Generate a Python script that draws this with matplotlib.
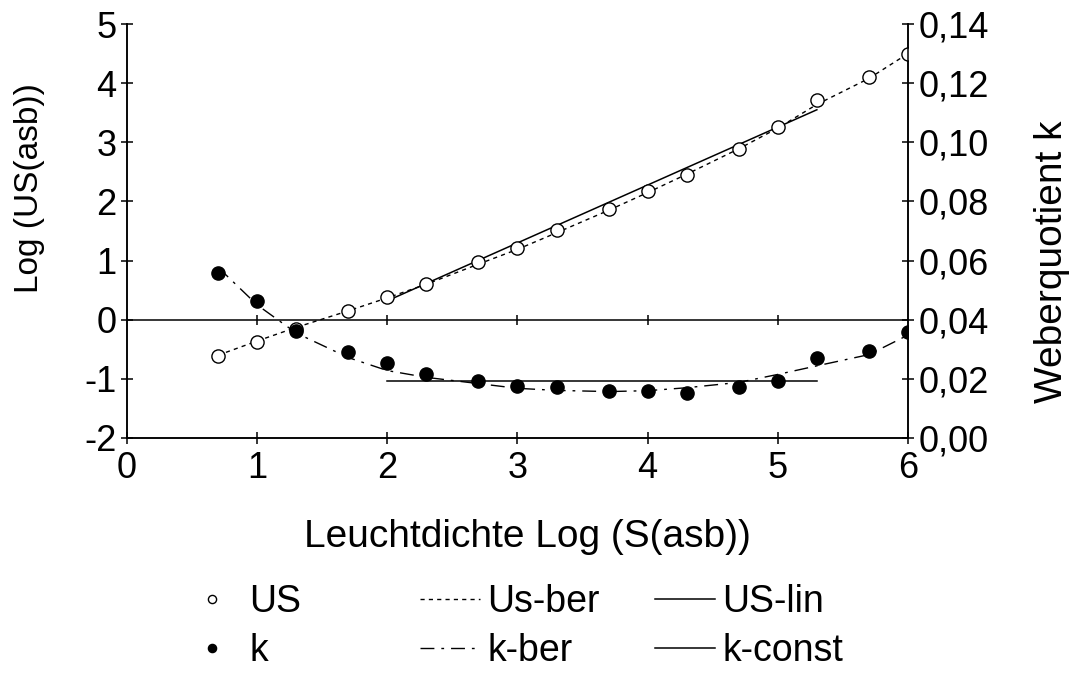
import numpy as np
import matplotlib
matplotlib.use("Agg")
import matplotlib.pyplot as plt
from matplotlib.ticker import FuncFormatter

plt.rcParams['font.family'] = ['Liberation Sans', 'DejaVu Sans']
plt.rcParams['axes.unicode_minus'] = False

# Leuchtdichte (log S) der Messpunkte
log_s = [0.7, 1.0, 1.3, 1.7, 2.0, 2.3, 2.7, 3.0, 3.3, 3.7, 4.0, 4.3, 4.7, 5.0, 5.3, 5.7, 6.0]

# Unterschiedsschwelle, gemessen und berechnet
us_mess = [-0.61, -0.37, -0.15, 0.14, 0.38, 0.61, 0.97, 1.21, 1.51, 1.88, 2.17, 2.44, 2.88, 3.26, 3.71, 4.11, 4.50]
us_ber = [-0.60, -0.36, -0.13, 0.15, 0.37, 0.60, 0.94, 1.19, 1.47, 1.85, 2.15, 2.46, 2.89, 3.24, 3.64, 4.08, 4.50]

# lineare Näherung US-lin
lin_x = [2.0, 5.3]
lin_y = [0.32, 3.55]

# Weberquotient k, gemessen und berechnet
k_mess = [0.0558, 0.0462, 0.0363, 0.0292, 0.0255, 0.0215, 0.0194, 0.0175, 0.0174, 0.0159,
          0.0159, 0.0151, 0.0173, 0.0192, 0.0272, 0.0294, 0.0360]
k_ber = [0.0577, 0.0450, 0.0355, 0.0272, 0.0228, 0.0205, 0.0184, 0.0168, 0.0161, 0.0157,
         0.0160, 0.0170, 0.0188, 0.0215, 0.0244, 0.0282, 0.0348]

# konstanter Weberquotient k-const
kc_x = [2.0, 5.3]
kc_y = [0.0193, 0.0193]

x_ticks = [0, 1, 2, 3, 4, 5, 6]
y_ticks = [-2, -1, 0, 1, 2, 3, 4, 5]
k_ticks = [0.00, 0.02, 0.04, 0.06, 0.08, 0.10, 0.12, 0.14]

fs = 26

fig = plt.figure(figsize=(10.8, 6.76), dpi=100)
ax = fig.add_axes([127 / 1080, 1 - 438 / 676, (908 - 127) / 1080, (438 - 24) / 676])
ax2 = ax.twinx()

ax.set_xlim(0, 6)
ax.set_ylim(-2, 5)
ax2.set_ylim(0, 0.14)

for a in (ax, ax2):
    a.spines['top'].set_visible(False)
    for s in ('left', 'right', 'bottom'):
        a.spines[s].set_linewidth(1.1)
    a.patch.set_visible(False)

ax.axhline(0, color='black', lw=1.1, zorder=1)
ax.plot(x_ticks[1:-1], [0] * 5, linestyle='none', marker='|', ms=6.5, mew=1.1, color='black')

l_us, = ax.plot(log_s, us_mess, linestyle='none', marker='o', ms=9.5, mfc='white',
                mec='black', mew=1.0, label='US', zorder=4)
l_usber, = ax.plot(log_s, us_ber, color='black', lw=1.0, dashes=(3, 3), label='Us-ber', zorder=3)
l_uslin, = ax.plot(lin_x, lin_y, color='black', lw=1.1, label='US-lin', zorder=3)

l_k, = ax2.plot(log_s, k_mess, linestyle='none', marker='o', ms=9.5, color='black', label='k', zorder=4)
l_kber, = ax2.plot(log_s, k_ber, color='black', lw=1.0, dashes=(10, 5, 2, 5), label='k-ber', zorder=3)
l_kc, = ax2.plot(kc_x, kc_y, color='black', lw=1.1, label='k-const', zorder=3)

ax.set_xticks(x_ticks)
ax.set_yticks(y_ticks)
ax2.set_yticks(k_ticks)
ax2.yaxis.set_major_formatter(FuncFormatter(lambda v, p: f'{v:.2f}'.replace('.', ',')))

ax.tick_params(axis='both', direction='inout', length=9, width=1.1, labelsize=fs, pad=3)
ax.tick_params(axis='x', pad=5)
ax2.tick_params(axis='y', direction='inout', length=9, width=1.1, labelsize=fs, pad=3)

# Achsenbeschriftungen
fig.text(527 / 1080, 1 - 537 / 676, 'Leuchtdichte Log (S(asb))', fontsize=28, ha='center', va='center')
fig.text(30 / 1080, 1 - 188 / 676, 'Log (US(asb))', fontsize=24, rotation=90, ha='center', va='center')
fig.text(1052 / 1080, 1 - 262 / 676, 'Weberquotient k', fontsize=28, rotation=90, ha='center', va='center')

# Legende in drei Spalten unter dem Diagramm
leg_kw = dict(frameon=False, fontsize=27, handlelength=1.6, handletextpad=0.2,
              labelspacing=0.34, borderpad=0, borderaxespad=0, loc='upper left')
fig.legend(handles=[l_us, l_k], markerscale=0.62, bbox_to_anchor=(182 / 1080, 1 - 584 / 676), **leg_kw)
fig.legend(handles=[l_usber, l_kber], bbox_to_anchor=(420 / 1080, 1 - 584 / 676), **leg_kw)
fig.legend(handles=[l_uslin, l_kc], bbox_to_anchor=(655 / 1080, 1 - 584 / 676), **leg_kw)

fig.savefig('out.png', dpi=100)
